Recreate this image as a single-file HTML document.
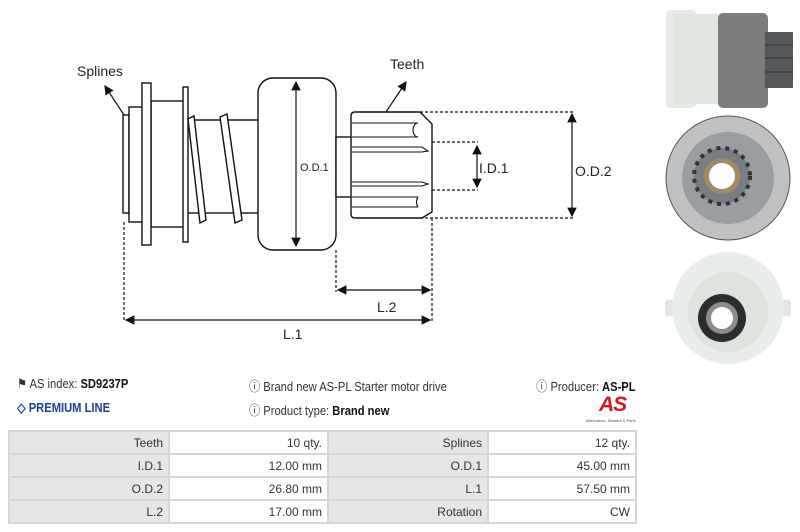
<!DOCTYPE html>
<html><head><meta charset="utf-8"><style>
body{margin:0;width:800px;height:532px;background:#fff;font-family:"Liberation Sans",sans-serif;color:#333;position:relative;overflow:hidden}
.t{position:absolute;font-size:13px;white-space:nowrap;transform:scaleX(.86);transform-origin:left center}
.r{transform-origin:right center}
table{position:absolute;left:8px;top:430px;border-collapse:collapse;font-size:12px}
td{border:2px solid #d6d6d6;height:21px;padding:0 5px;text-align:right;color:#333}
td.g{background:#e6e6e6}
</style></head><body>
<svg width="800" height="370" style="position:absolute;left:0;top:0" font-family="Liberation Sans, sans-serif">
<defs><marker id="a" markerWidth="8" markerHeight="8" refX="7" refY="4" orient="auto-start-reverse"><path d="M0,0 L8,4 L0,8z" fill="#111"/></marker></defs>
<g stroke="#111" stroke-width="1.4" fill="#fff">
<rect x="186" y="120" width="74" height="93"/>
<rect x="123" y="115" width="6" height="98"/>
<rect x="129" y="107" width="14" height="115"/>
<rect x="151" y="101" width="35" height="126"/>
<rect x="142" y="83" width="9" height="162"/>
<rect x="183" y="87" width="5" height="155"/>
<path d="M188,119 l6,-3 l12,104 l-6,3z"/>
<path d="M220,117 l7,-3 l15,106 l-7,3z"/>
<rect x="258" y="78" width="78" height="172" rx="15"/>
<rect x="336" y="137" width="16" height="60"/>
<path d="M355,112 L420,112 L432,124 L432,212 L422,218 L355,218 Q351,218 351,214 L351,116 Q351,112 355,112z"/>
</g>
<g stroke="#111" stroke-width="1.1" fill="none">
<path d="M352,123H418M352,137H418M352,147H422L428,151L422,152H352M352,182H422L428,184L422,186H352M352,197H418M352,207H418"/>
<path d="M418,123a5,7 0 0 0 0,14M418,197a5,7 0 0 0 0,10"/>
</g>
<g stroke="#111" stroke-width="1.2" stroke-dasharray="3,2" fill="none">
<path d="M420,112H575M420,218H575M432,142H478M432,190H478M336,250V292M432,218V322M124,222V322"/>
</g>
<g stroke="#111" stroke-width="1.2" fill="none">
<line x1="296" y1="82" x2="296" y2="246" marker-start="url(#a)" marker-end="url(#a)"/>
<line x1="477" y1="146" x2="477" y2="187" marker-start="url(#a)" marker-end="url(#a)"/>
<line x1="572" y1="114" x2="572" y2="216" marker-start="url(#a)" marker-end="url(#a)"/>
<line x1="338" y1="290" x2="430" y2="290" marker-start="url(#a)" marker-end="url(#a)"/>
<line x1="126" y1="320" x2="430" y2="320" marker-start="url(#a)" marker-end="url(#a)"/>
<line x1="124" y1="115" x2="105" y2="86" marker-end="url(#a)"/>
<line x1="386" y1="112" x2="406" y2="82" marker-end="url(#a)"/>
</g>
<g fill="#222" font-size="14">
<text x="77" y="76">Splines</text>
<text x="390" y="69">Teeth</text>
<text x="300" y="171" font-size="11">O.D.1</text>
<text x="479" y="173">I.D.1</text>
<text x="575" y="176">O.D.2</text>
<text x="377" y="312">L.2</text>
<text x="283" y="339">L.1</text>
</g>
<g>
<rect x="666" y="10" width="30" height="98" rx="4" fill="#e6ebe6"/>
<rect x="674" y="14" width="48" height="90" fill="#dfe5df"/>
<rect x="718" y="13" width="50" height="95" rx="5" fill="#7a7c7e"/>
<rect x="765" y="32" width="28" height="56" fill="#55585a"/>
<path d="M765,45h28M765,58h28M765,72h28" stroke="#2e3032"/>
<circle cx="728" cy="178" r="62" fill="#bfc1c3" stroke="#555"/>
<circle cx="728" cy="178" r="46" fill="#9a9ea2"/>
<circle cx="722" cy="176" r="28" fill="#7a7e82" stroke="#333" stroke-width="4" stroke-dasharray="4,5"/>
<circle cx="722" cy="176" r="18" fill="#a08a6a"/>
<circle cx="722" cy="176" r="13" fill="#fff"/>
<rect x="665" y="300" width="126" height="16" rx="3" fill="#e2e6e2"/>
<circle cx="728" cy="308" r="56" fill="#e9ede9"/>
<circle cx="728" cy="312" r="40" fill="#dde2dd"/>
<circle cx="722" cy="318" r="24" fill="#2a2c2e"/>
<circle cx="722" cy="318" r="16" fill="#8a8c8e"/>
<circle cx="722" cy="318" r="11" fill="#fff"/>
</g>
</svg>
<div class="t" style="left:17px;top:376px">&#9873; AS index: <b style="color:#111">SD9237P</b></div>
<div class="t" style="left:17px;top:400px;color:#1f3f91;font-weight:bold">&#9671; PREMIUM LINE</div>
<div class="t" style="left:249px;top:376px">&#9432; Brand new AS-PL Starter motor drive</div>
<div class="t" style="left:249px;top:400px">&#9432; Product type: <b style="color:#111">Brand new</b></div>
<div class="t r" style="right:164px;top:376px">&#9432; Producer: <b style="color:#111">AS-PL</b></div>
<div class="t" style="left:599px;top:393px;color:#d8141c;font-weight:bold;font-style:italic;font-size:21px;letter-spacing:-1px;transform:none">AS</div>
<div class="t" style="left:586px;top:418px;font-size:4px;color:#555;transform:none">Alternators, Starters &amp; Parts</div>
<table>
<tr><td class="g" style="width:148px">Teeth</td><td style="width:147px">10 qty.</td><td class="g" style="width:148px">Splines</td><td style="width:136px">12 qty.</td></tr>
<tr><td class="g">I.D.1</td><td>12.00 mm</td><td class="g">O.D.1</td><td>45.00 mm</td></tr>
<tr><td class="g">O.D.2</td><td>26.80 mm</td><td class="g">L.1</td><td>57.50 mm</td></tr>
<tr><td class="g">L.2</td><td>17.00 mm</td><td class="g">Rotation</td><td>CW</td></tr>
</table>
</body></html>
